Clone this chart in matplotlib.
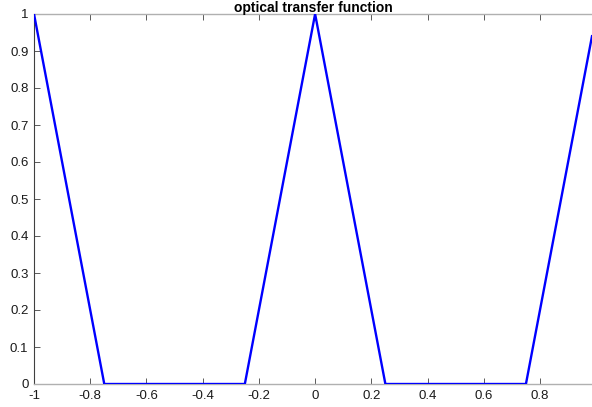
import matplotlib
matplotlib.use("Agg")
import matplotlib.pyplot as plt
import numpy as np

plt.rcParams['font.family'] = ['Liberation Sans', 'DejaVu Sans']

x_vals = [-1.0, -0.75, -0.25, 0.0, 0.25, 0.75, 0.985]
otf_vals = [1.0, 0.0, 0.0, 1.0, 0.0, 0.0, 0.94]
x_ticks = [-1, -0.8, -0.6, -0.4, -0.2, 0, 0.2, 0.4, 0.6, 0.8]
x_tick_labels = ['-1', '-0.8', '-0.6', '-0.4', '-0.2', '0', '0.2', '0.4', '0.6', '0.8']
y_ticks = [0, 0.1, 0.2, 0.3, 0.4, 0.5, 0.6, 0.7, 0.8, 0.9, 1]
y_tick_labels = ['0', '0.1', '0.2', '0.3', '0.4', '0.5', '0.6', '0.7', '0.8', '0.9', '1']

fig = plt.figure(figsize=(5.92, 4.07), dpi=100)
ax = fig.add_axes([34/592, 23/407, 1 - 34/592, (384-14)/407])
ax.plot(x_vals, otf_vals, color=(0, 0, 1), linewidth=1.7, clip_on=True, zorder=3)
ax.set_xlim(-1, 0.985)
ax.set_ylim(0, 1)
ax.set_xticks(x_ticks)
ax.set_xticklabels(x_tick_labels)
ax.set_yticks(y_ticks)
ax.set_yticklabels(y_tick_labels)
ax.tick_params(direction='in', length=4, width=0.6, colors='#404040', labelcolor='#1a1a1a',
               labelsize=9.5, top=True, right=False, pad=4)
for side in ['top', 'bottom']:
    ax.spines[side].set_color('#b0b0b0')
    ax.spines[side].set_linewidth(1.0)
ax.spines['left'].set_color('#404040')
ax.spines['left'].set_linewidth(0.8)
ax.spines['right'].set_visible(False)
ax.set_title('optical transfer function', fontsize=10, fontweight='bold', pad=1.5)
fig.savefig('out.png', dpi=100)
